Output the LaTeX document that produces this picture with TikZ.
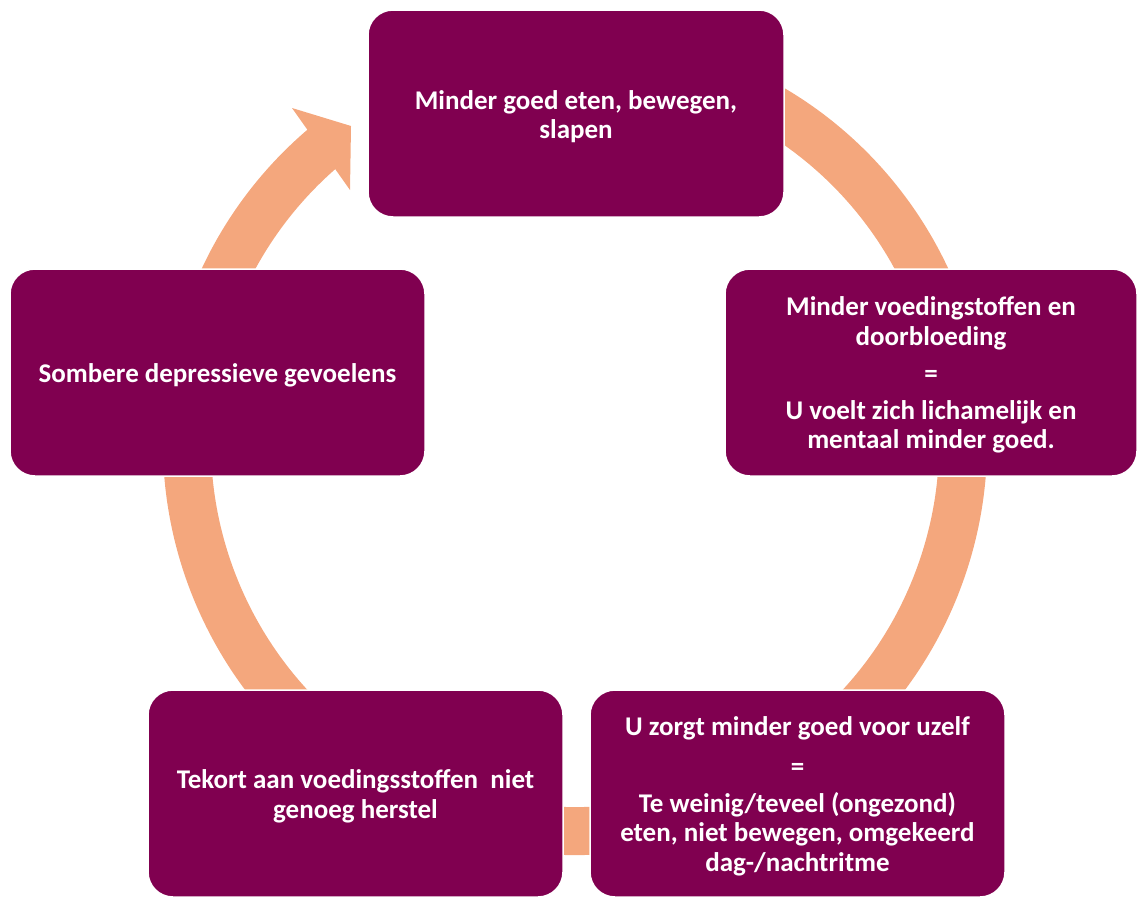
\documentclass[tikz,border=0pt]{standalone}
\usepackage{fontspec}
\setmainfont{Carlito}
\definecolor{plum}{RGB}{128,0,80}
\definecolor{peach}{RGB}{244,167,125}
\begin{document}
\begin{tikzpicture}[x=1pt,y=1pt,
  box/.style={rectangle, rounded corners=25pt, fill=plum, draw=white, line width=1.5pt,
    minimum height=207pt, inner sep=0pt},
  txt/.style={text=white, font=\bfseries\fontsize{27}{29.5}\selectfont, align=center, inner sep=0pt},
  ring/.style={draw=peach, line width=48pt},
  head/.style={fill=peach}]
\useasboundingbox (0,0) rectangle (1137,-897);
\coordinate (C) at (575,-443);
% ring
\draw[ring] (C) ++(70:388) arc[start angle=70, end angle=-231, radius=388];
\coordinate (b1) at (292,-108);
\coordinate (tip) at (351,-126);
\coordinate (b2) at (350,-190);
\fill[head] (b1) -- (tip) -- (b2) -- cycle;
% boxes
\node[box, minimum width=416pt] (top) at (576,-113.5) {};
\node[box, minimum width=412pt] (right) at (931,-372.5) {};
\node[box, minimum width=415pt] (left) at (217.5,-372.5) {};
\node[box, minimum width=415pt] (bl) at (355.5,-793.5) {};
\node[box, minimum width=415pt] (br) at (797.5,-793.5) {};
% texts
\node[txt] (topt) at ([yshift=-3pt]top.center) {Minder goed eten, bewegen,\\slapen};
\node[txt] (rightt) at ([yshift=-2.5pt]right.center) {Minder voedingstoffen en\\doorbloeding\\[7.5pt]=\\[7.5pt]U voelt zich lichamelijk en\\mentaal minder goed.};
\node[txt] (leftt) at ([yshift=-3pt]left.center) {Sombere depressieve gevoelens};
\node[txt] (blt) at ([yshift=-3pt]bl.center) {Tekort aan voedingsstoffen\ \ niet\\genoeg herstel};
\node[txt] (brt) at ([yshift=-3pt]br.center) {U zorgt minder goed voor uzelf\\[10pt]=\\[7.5pt]Te weinig/teveel (ongezond)\\eten, niet bewegen, omgekeerd\\dag-/nachtritme};
\end{tikzpicture}
\end{document}
